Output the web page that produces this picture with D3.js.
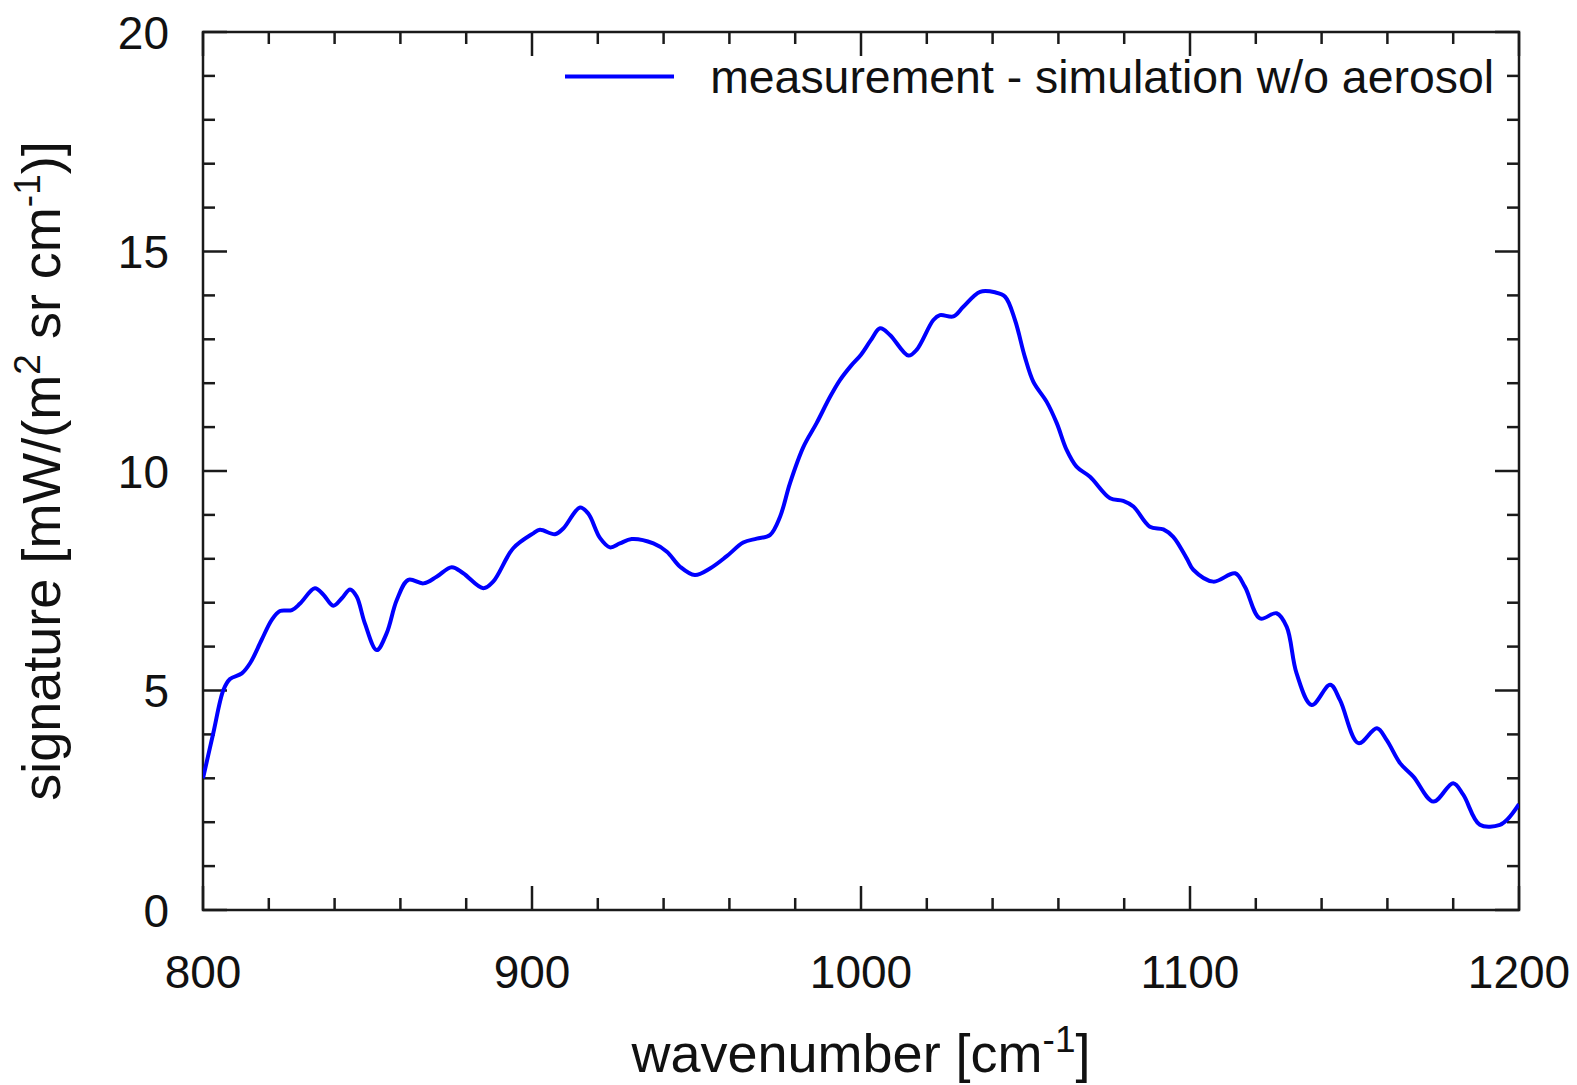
<!DOCTYPE html>
<html>
<head>
<meta charset="utf-8">
<script src="https://cdn.jsdelivr.net/npm/d3@7"></script>
<style>
  body { margin: 0; background: #fff; }
  svg { display: block; }
  text { font-family: "Liberation Sans", Arial, sans-serif; fill: #111; }
</style>
</head>
<body>
<script>
// ---- data ----
const wavenumber = [
  800, 803.1, 806.2, 808.2, 811.8, 814.3, 817.8, 820.9, 823.4, 827, 829.5, 834, 836.6, 839.6,
  842.2, 844.7, 846.7, 849.2, 852.8, 855.8, 858.9, 862.4, 867, 871, 875.6, 879.1, 885.2, 888.2,
  894.3, 900.4, 902.4, 907, 909.5, 914.6, 917.1, 920.7, 923.7, 926.7, 930.3, 936.9, 941, 945,
  949.5, 954.1, 959.2, 964.2, 968.3, 972.3, 975.4, 978.4, 982.5, 986.5, 990.6, 993.6, 997,
  1000, 1003, 1005.8, 1008.8, 1014.4, 1016.9, 1022, 1024, 1028.1, 1031.1, 1036.2, 1040.7,
  1043.8, 1046.8, 1049.8, 1052.4, 1056.4, 1059.5, 1062.5, 1065.5, 1069.6, 1075.7, 1079.7,
  1082.8, 1087.8, 1091.9, 1094.9, 1099, 1101, 1107.1, 1113.7, 1116.7, 1121.3, 1126.3, 1129.4,
  1132.4, 1137, 1142.6, 1145.6, 1151.2, 1156.8, 1159.8, 1163.9, 1167.9, 1174, 1180, 1183.1,
  1188.1, 1194.2, 1196.8, 1200
];
const signature = [
  3.0, 4.02, 5.01, 5.26, 5.39, 5.62, 6.15, 6.61, 6.81, 6.83, 6.98, 7.33, 7.18, 6.93,
  7.10, 7.30, 7.14, 6.53, 5.92, 6.30, 7.06, 7.52, 7.44, 7.59, 7.81, 7.67, 7.33, 7.48,
  8.24, 8.58, 8.66, 8.56, 8.69, 9.17, 9.03, 8.47, 8.26, 8.35, 8.45, 8.35, 8.16, 7.82,
  7.63, 7.78, 8.06, 8.37, 8.46, 8.54, 8.96, 9.72, 10.55, 11.09, 11.69, 12.07, 12.40,
  12.65, 12.98, 13.25, 13.10, 12.63, 12.76, 13.44, 13.55, 13.52, 13.74, 14.08, 14.07,
  13.97, 13.44, 12.60, 12.03, 11.58, 11.09, 10.48, 10.10, 9.87, 9.38, 9.32,
  9.19, 8.73, 8.67, 8.50, 8.01, 7.75, 7.48, 7.67, 7.36, 6.64, 6.76, 6.45,
  5.39, 4.67, 5.13, 4.78, 3.80, 4.14, 3.87, 3.34, 3.04, 2.47, 2.89, 2.62,
  1.94, 1.94, 2.09, 2.41
];
const xTickLabels = [800, 900, 1000, 1100, 1200];
const yTickLabels = [0, 5, 10, 15, 20];
const xMinorTicks = d3.range(800, 1201, 20);
const yMinorTicks = d3.range(0, 21, 1);
const seriesName = "measurement - simulation w/o aerosol";
const xLabel = "wavenumber [cm";
const yLabel = "signature [mW/(m";

// ---- layout ----
const W = 1577, H = 1085;
const L = 203, R = 1519, T = 32, B = 910;
const FS = 46;       // tick labels / legend
const FL = 54;       // axis titles
const FSUP = 37;     // superscripts
const SUP = 20;      // superscript rise

const svg = d3.select("body").append("svg").attr("width", W).attr("height", H);

const x = d3.scaleLinear().domain([800, 1200]).range([L, R]);
const y = d3.scaleLinear().domain([0, 20]).range([B, T]);

const tickColor = "#1a1a1a";
const g = svg.append("g");

// minor & major ticks on all four sides
function tickLines(vals, isMajor, orient) {
  const len = isMajor ? 24 : 12;
  vals.forEach(v => {
    let x1, y1, x2, y2;
    if (orient === "bottom") { x1 = x2 = x(v); y1 = B; y2 = B - len; }
    if (orient === "top")    { x1 = x2 = x(v); y1 = T; y2 = T + len; }
    if (orient === "left")   { y1 = y2 = y(v); x1 = L; x2 = L + len; }
    if (orient === "right")  { y1 = y2 = y(v); x1 = R; x2 = R - len; }
    g.append("line").attr("x1", x1).attr("y1", y1).attr("x2", x2).attr("y2", y2)
      .attr("stroke", tickColor).attr("stroke-width", 2.5);
  });
}
["bottom", "top"].forEach(o => {
  tickLines(xMinorTicks.filter(v => !xTickLabels.includes(v)), false, o);
  tickLines(xTickLabels, true, o);
});
["left", "right"].forEach(o => {
  tickLines(yMinorTicks.filter(v => !yTickLabels.includes(v)), false, o);
  tickLines(yTickLabels, true, o);
});

// frame
g.append("rect").attr("x", L).attr("y", T).attr("width", R - L).attr("height", B - T)
  .attr("fill", "none").attr("stroke", tickColor).attr("stroke-width", 2.5);

// tick labels
svg.append("g").selectAll("text").data(xTickLabels).join("text")
  .attr("x", d => x(d)).attr("y", 988).attr("text-anchor", "middle")
  .attr("font-size", FS).text(d => d);
svg.append("g").selectAll("text").data(yTickLabels).join("text")
  .attr("x", 169).attr("y", d => y(d) + 16.5).attr("text-anchor", "end")
  .attr("font-size", FS).text(d => d);

// axis labels
const xl = svg.append("text").attr("x", (L + R) / 2).attr("y", 1072)
  .attr("text-anchor", "middle").attr("font-size", FL);
xl.append("tspan").text(xLabel);
xl.append("tspan").attr("dy", -SUP).attr("font-size", FSUP).text("-1");
xl.append("tspan").attr("dy", SUP).text("]");

const yl = svg.append("text")
  .attr("transform", `translate(60,${(T + B) / 2}) rotate(-90)`)
  .attr("text-anchor", "middle").attr("font-size", FL);
yl.append("tspan").text(yLabel);
yl.append("tspan").attr("dy", -SUP).attr("font-size", FSUP).text("2");
yl.append("tspan").attr("dy", SUP).text(" sr cm");
yl.append("tspan").attr("dy", -SUP).attr("font-size", FSUP).text("-1");
yl.append("tspan").attr("dy", SUP).text(")]");

// data line
const pts = wavenumber.map((w, i) => [w, signature[i]]);
const line = d3.line().x(d => x(d[0])).y(d => y(d[1])).curve(d3.curveCatmullRom.alpha(0.5));
svg.append("defs").append("clipPath").attr("id", "clip")
  .append("rect").attr("x", L).attr("y", T).attr("width", R - L).attr("height", B - T);
svg.append("path").datum(pts).attr("d", line)
  .attr("fill", "none").attr("stroke", "#0000ff").attr("stroke-width", 4)
  .attr("stroke-linejoin", "round").attr("clip-path", "url(#clip)");

// legend
svg.append("line").attr("x1", 565).attr("x2", 674).attr("y1", 76.5).attr("y2", 76.5)
  .attr("stroke", "#0000ff").attr("stroke-width", 4);
svg.append("text").attr("x", 1494).attr("y", 93).attr("text-anchor", "end")
  .attr("font-size", 46.4).text(seriesName);
</script>
</body>
</html>
